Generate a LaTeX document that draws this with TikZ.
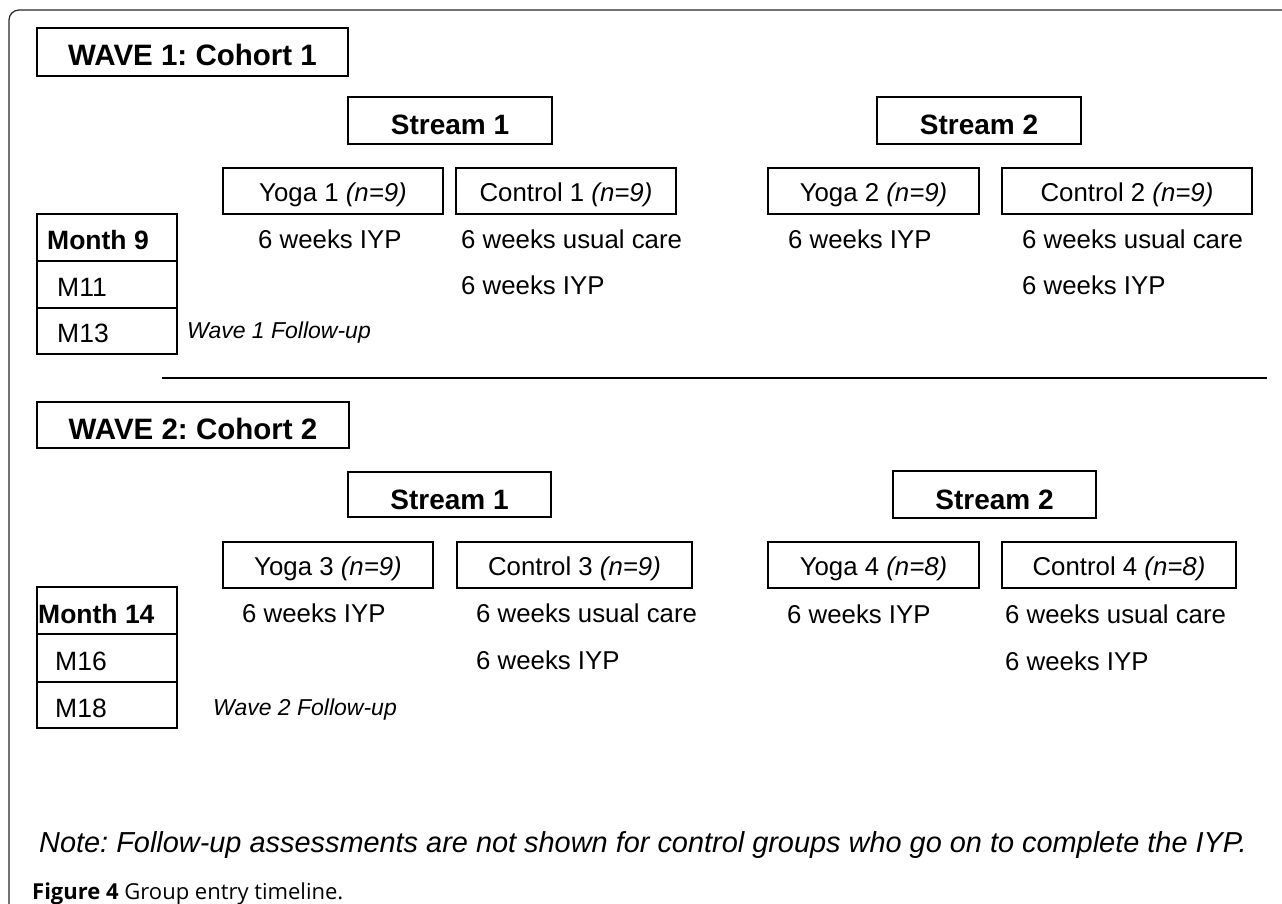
\documentclass[tikz,border=0pt]{standalone}
\usepackage{fontspec}
\setmainfont{Liberation Sans}
\newfontfamily\capfont{Open Sans}
\frenchspacing
\tikzset{
  wavebox/.style={draw, line width=1.6pt, inner sep=0pt, minimum width=311pt, minimum height=48pt, font=\fontsize{29.5}{34}\selectfont\bfseries, text height=28pt, text depth=0pt},
  streambox/.style={draw, line width=1.6pt, inner sep=0pt, minimum width=204pt, minimum height=47pt, font=\fontsize{28}{32}\selectfont\bfseries, text height=29pt, text depth=0pt},
  grpbox/.style={draw, line width=1.6pt, inner sep=0pt, minimum height=46pt, font=\fontsize{25.8}{30}\selectfont, text height=20.5pt, text depth=0pt},
  weeks/.style={anchor=base west, inner sep=0pt, font=\fontsize{25.8}{30}\selectfont},
  cell/.style={anchor=base west, inner sep=0pt, font=\fontsize{26.5}{30}\selectfont},
  monthcell/.style={cell, font=\fontsize{26.5}{30}\selectfont\bfseries},
  follow/.style={anchor=base west, inner sep=0pt, font=\fontsize{23}{27}\selectfont\itshape},
}
\begin{document}
\begin{tikzpicture}[x=1pt, y=-1pt]
\useasboundingbox (0,0) rectangle (1282,904);
\draw[line width=1.2pt, black!85, rounded corners=10pt] (9,904) -- (9,10) -- (1282,10);

\node[wavebox] (wave1) at (192.5,52) {WAVE 1: Cohort 1};
\node[streambox] (s11) at (450,120.5) {Stream 1};
\node[streambox] (s12) at (979,120.5) {Stream 2};
\node[grpbox, minimum width=220pt] (yoga1) at (333,191) {Yoga 1 \textit{(n=9)}};
\node[grpbox, minimum width=220pt] (ctrl1) at (566,191) {Control 1 \textit{(n=9)}};
\node[grpbox, minimum width=211pt] (yoga2) at (873.5,191) {Yoga 2 \textit{(n=9)}};
\node[grpbox, minimum width=250pt] (ctrl2) at (1127,191) {Control 2 \textit{(n=9)}};

\draw[line width=1.6pt] (37,214) rectangle (177,354) (37,261) -- (177,261) (37,308) -- (177,308);
\node[monthcell] (m9) at (47,249) {Month 9};
\node[cell] (m11) at (57,296) {M11};
\node[cell] (m13) at (57,342) {M13};
\node[weeks] (y1a) at (258,248) {6 weeks IYP};
\node[weeks] (c1a) at (461,248) {6 weeks usual care};
\node[weeks] (c1b) at (461,294) {6 weeks IYP};
\node[weeks] (y2a) at (788,248) {6 weeks IYP};
\node[weeks] (c2a) at (1022,248) {6 weeks usual care};
\node[weeks] (c2b) at (1022,294) {6 weeks IYP};
\node[follow] (fu1) at (187,338) {Wave 1 Follow-up};

\draw[line width=2pt] (162,378) -- (1267,378);

\node[wavebox, minimum width=312pt, minimum height=46pt] (wave2) at (193,425) {WAVE 2: Cohort 2};
\node[streambox, minimum width=203pt, minimum height=45pt] (s21) at (449.5,494.5) {Stream 1};
\node[streambox, minimum width=203pt] (s22) at (994.5,494.5) {Stream 2};
\node[grpbox, minimum width=210pt] (yoga3) at (328,565) {Yoga 3 \textit{(n=9)}};
\node[grpbox, minimum width=235pt] (ctrl3) at (574.5,565) {Control 3 \textit{(n=9)}};
\node[grpbox, minimum width=211pt] (yoga4) at (873.5,565) {Yoga 4 \textit{(n=8)}};
\node[grpbox, minimum width=234pt] (ctrl4) at (1119,565) {Control 4 \textit{(n=8)}};

\draw[line width=1.6pt] (37,587) rectangle (177,728) (37,634) -- (177,634) (37,682) -- (177,682);
\node[monthcell] (m14) at (38,623) {Month 14};
\node[cell] (m16) at (55,670) {M16};
\node[cell] (m18) at (55,717) {M18};
\node[weeks] (y3a) at (242,622) {6 weeks IYP};
\node[weeks] (c3a) at (476,622) {6 weeks usual care};
\node[weeks] (c3b) at (476,669) {6 weeks IYP};
\node[weeks] (y4a) at (787,623) {6 weeks IYP};
\node[weeks] (c4a) at (1005,623) {6 weeks usual care};
\node[weeks] (c4b) at (1005,670) {6 weeks IYP};
\node[follow] (fu2) at (213,715) {Wave 2 Follow-up};

\node[anchor=base west, inner sep=0pt, font=\fontsize{28.9}{33}\selectfont\itshape] (note) at (39,852) {Note: Follow-up assessments are not shown for control groups who go on to complete the IYP.};
\node[anchor=base west, inner sep=0pt, font=\capfont\fontsize{22}{26}\selectfont] (caption) at (32,899) {\textbf{Figure 4} Group entry timeline.};
\end{tikzpicture}
\end{document}
